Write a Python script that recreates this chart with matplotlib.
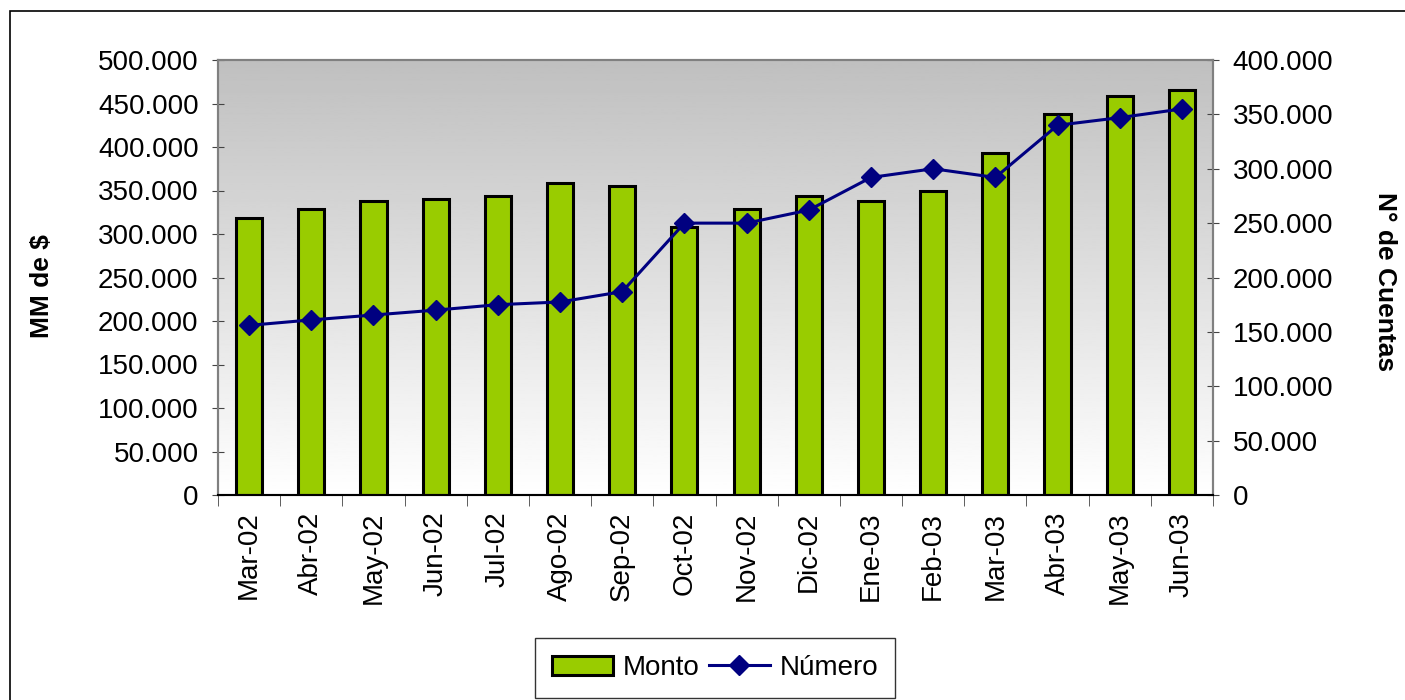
import matplotlib.pyplot as plt
import numpy as np
from matplotlib.patches import Rectangle
from matplotlib.ticker import FuncFormatter, FixedLocator

plt.rcParams['font.family'] = ['Liberation Sans', 'DejaVu Sans']

meses = ["Mar-02", "Abr-02", "May-02", "Jun-02", "Jul-02", "Ago-02", "Sep-02", "Oct-02",
         "Nov-02", "Dic-02", "Ene-03", "Feb-03", "Mar-03", "Abr-03", "May-03", "Jun-03"]
monto = [318000, 329000, 338000, 340000, 344000, 359000, 355000, 308000,
         329000, 344000, 338000, 349000, 393000, 438000, 459000, 465000]
numero = [156000, 161000, 165500, 170000, 175000, 177500, 187000, 250000,
          250000, 262000, 292000, 300000, 292000, 340000, 347000, 355000]

fmt = FuncFormatter(lambda v, p: "{:,.0f}".format(v).replace(",", "."))

fig = plt.figure(figsize=(14.05, 7), dpi=100)
ax = fig.add_axes([218/1405, 1 - 495/700, (1213-218)/1405, (495-60)/700])
ax2 = ax.twinx()

x = np.arange(len(meses))

# fondo degradado gris (arriba) -> blanco (abajo)
grad = np.linspace(1.0, 0.75, 256).reshape(-1, 1)
ax.imshow(grad, cmap="gray", vmin=0, vmax=1, aspect="auto", origin="lower",
          extent=[-0.5, len(meses) - 0.5, 0, 500000], zorder=0)

ax.bar(x, monto, width=0.42, color="#99cc00", edgecolor="black", linewidth=2.2,
       zorder=2, label="Monto")
ax2.plot(x, numero, color="#000080", linewidth=2.2, marker="D", markersize=10,
         label="Número", zorder=3)

ax.set_xlim(-0.5, len(meses) - 0.5)
ax.set_ylim(0, 500000)
ax2.set_ylim(0, 400000)
ax.set_yticks(np.arange(0, 500001, 50000))
ax2.set_yticks(np.arange(0, 400001, 50000))
ax.yaxis.set_major_formatter(fmt)
ax2.yaxis.set_major_formatter(fmt)

ax.set_xticks(x)
ax.set_xticklabels(meses, rotation=90, fontsize=20)
ax.tick_params(axis="x", length=0, pad=12)
ax.xaxis.set_minor_locator(FixedLocator(np.arange(-0.5, len(meses), 1)))
ax.tick_params(axis="x", which="minor", length=8, direction="out", color="#444444")
ax.tick_params(axis="y", labelsize=20, length=8, direction="inout", color="#444444", pad=10)
ax2.tick_params(axis="y", labelsize=20, length=8, direction="inout", color="#444444", pad=10)

for a in (ax, ax2):
    for s in a.spines.values():
        s.set_color("#808080")
        s.set_linewidth(1.5)
ax2.spines["bottom"].set_color("black")

ax.set_ylabel("MM de $", fontsize=19, fontweight="bold")
ax.yaxis.set_label_coords(-0.165, 0.48)
ax2.set_ylabel("N° de Cuentas", fontsize=19, fontweight="bold", rotation=-90)
ax2.yaxis.set_label_coords(1.185, 0.49)

h1, l1 = ax.get_legend_handles_labels()
h2, l2 = ax2.get_legend_handles_labels()
fig.legend(h1 + h2, l1 + l2, loc="center", bbox_to_anchor=(715/1405, 1 - 668/700),
           ncol=2, fontsize=20, frameon=True, fancybox=False, edgecolor="black",
           handlelength=2.2, columnspacing=0.35, handletextpad=0.35, borderpad=0.6)

fig.patches.append(Rectangle((10/1405, -0.01), 1.05, 1 - 11/700 + 0.01,
                             transform=fig.transFigure, fill=False,
                             edgecolor="black", linewidth=1.2))

fig.savefig("out.png", dpi=100)
